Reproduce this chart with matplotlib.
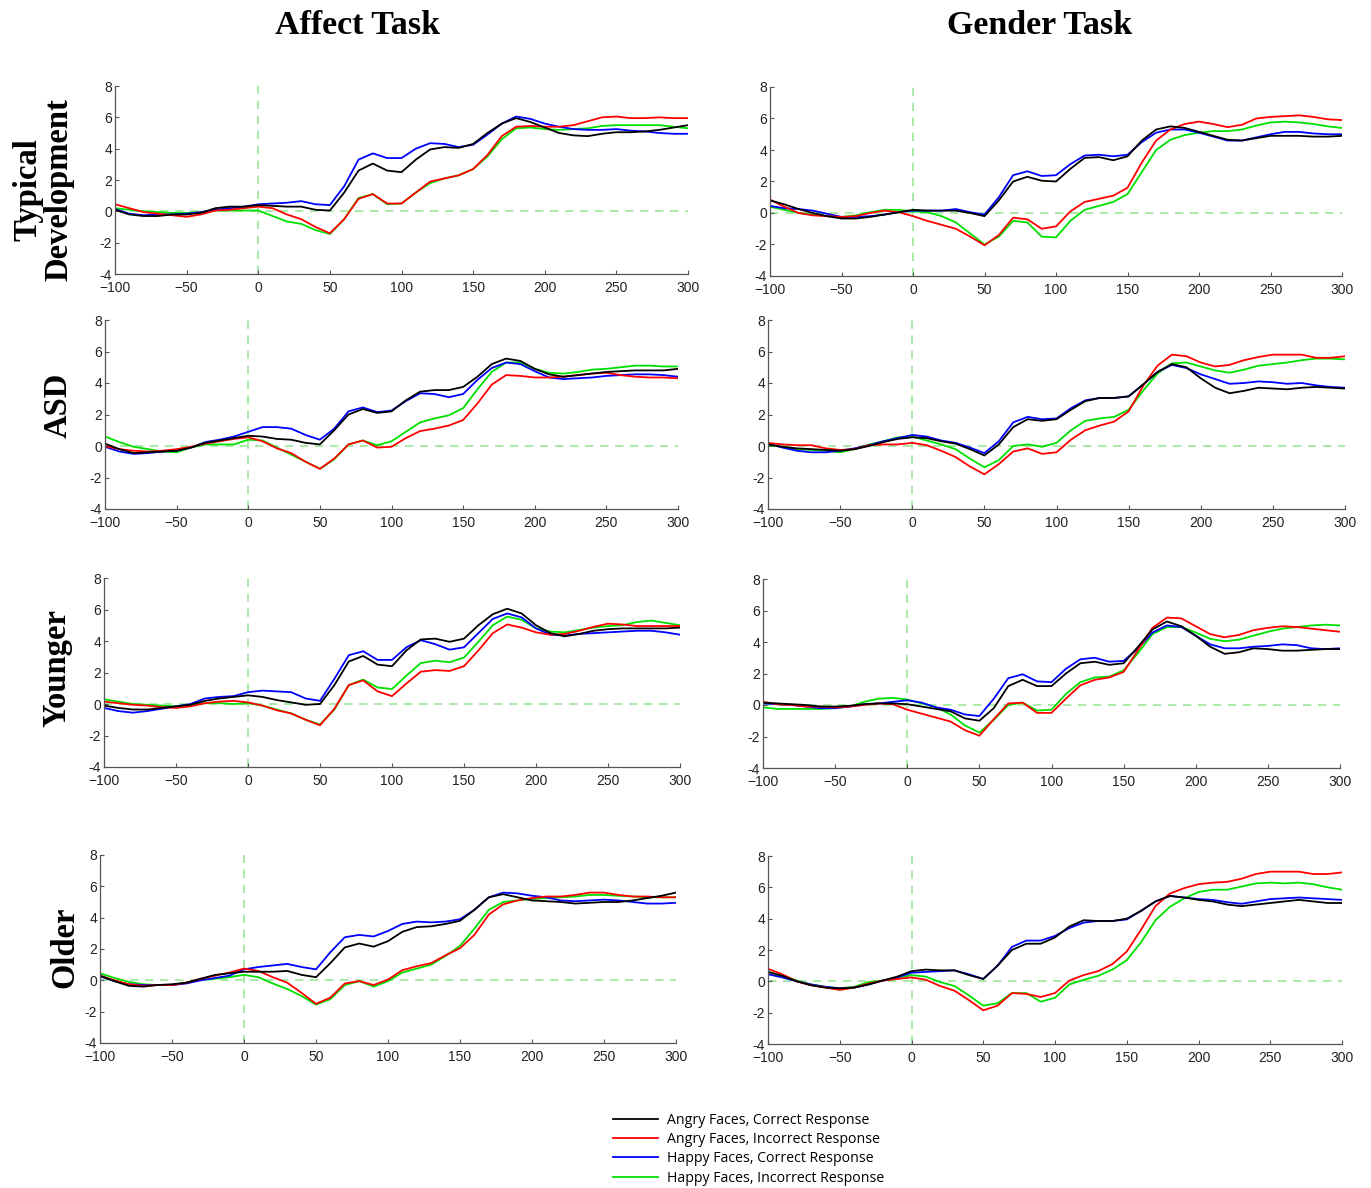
import numpy as np
import matplotlib
matplotlib.use("Agg")
import matplotlib.pyplot as plt

time_ms = list(range(-100, 301, 10))

tasks = ["Affect Task", "Gender Task"]
groups = ["Typical\nDevelopment", "ASD", "Younger", "Older"]
series_labels = ["Angry Faces, Correct Response", "Angry Faces, Incorrect Response",
                 "Happy Faces, Correct Response", "Happy Faces, Incorrect Response"]
y_ticks = [-4, -2, 0, 2, 4, 6, 8]
x_ticks = [-100, -50, 0, 50, 100, 150, 200, 250, 300]

# ---- Typical Development, Affect ----
td_aff_angry_cor = [0.1, -0.2, -0.3, -0.3, -0.2, -0.2, -0.1, 0.2, 0.3, 0.3, 0.4, 0.35, 0.3, 0.3, 0.1, 0.05, 1.2, 2.6, 3.05, 2.6, 2.5,
                    3.3, 3.95, 4.1, 4.05, 4.3, 5.0, 5.6, 5.95, 5.7, 5.35, 5.0, 4.85, 4.8, 4.95, 5.05, 5.05, 5.1, 5.2, 5.35, 5.5]
td_aff_angry_inc = [0.45, 0.2, -0.05, -0.15, -0.25, -0.35, -0.2, 0.05, 0.1, 0.2, 0.3, 0.2, -0.2, -0.5, -1.0, -1.4, -0.5, 0.8, 1.1, 0.5, 0.5,
                    1.2, 1.9, 2.1, 2.3, 2.7, 3.6, 4.8, 5.4, 5.45, 5.4, 5.4, 5.5, 5.75, 6.0, 6.05, 5.95, 5.95, 6.0, 5.95, 5.95]
td_aff_happy_cor = [0.15, -0.15, -0.25, -0.2, -0.2, -0.15, -0.05, 0.1, 0.2, 0.3, 0.45, 0.5, 0.55, 0.65, 0.45, 0.4, 1.6, 3.3, 3.7, 3.4, 3.4,
                    4.0, 4.35, 4.3, 4.1, 4.25, 4.9, 5.6, 6.05, 5.9, 5.6, 5.4, 5.25, 5.2, 5.2, 5.25, 5.15, 5.1, 5.0, 4.95, 4.95]
td_aff_happy_inc = [0.2, 0.1, 0.0, -0.05, -0.1, -0.1, -0.05, 0.05, 0.05, 0.05, 0.05, -0.3, -0.65, -0.8, -1.2, -1.45, -0.5, 0.85, 1.1, 0.45, 0.5,
                    1.2, 1.8, 2.1, 2.3, 2.7, 3.5, 4.6, 5.3, 5.35, 5.25, 5.2, 5.25, 5.3, 5.45, 5.5, 5.5, 5.5, 5.5, 5.4, 5.3]

# ---- Typical Development, Gender ----
td_gen_angry_cor = [0.8, 0.55, 0.25, 0.0, -0.2, -0.35, -0.35, -0.25, -0.1, 0.05, 0.2, 0.15, 0.15, 0.15, 0.0, -0.2, 0.8, 2.0, 2.3, 2.05, 2.0,
                    2.8, 3.5, 3.55, 3.35, 3.6, 4.6, 5.3, 5.5, 5.4, 5.15, 4.9, 4.65, 4.6, 4.75, 4.9, 4.9, 4.9, 4.85, 4.85, 4.9]
td_gen_angry_inc = [0.85, 0.4, 0.0, -0.15, -0.2, -0.25, -0.2, 0.0, 0.15, 0.05, -0.2, -0.5, -0.75, -1.0, -1.5, -2.05, -1.4, -0.3, -0.4, -1.0, -0.85,
                    0.1, 0.7, 0.9, 1.1, 1.6, 3.2, 4.6, 5.3, 5.65, 5.8, 5.65, 5.45, 5.6, 6.0, 6.1, 6.15, 6.2, 6.1, 5.95, 5.9]
td_gen_happy_cor = [0.45, 0.3, 0.25, 0.15, -0.05, -0.25, -0.25, -0.2, -0.1, 0.05, 0.15, 0.15, 0.15, 0.25, 0.05, -0.1, 1.0, 2.4, 2.65, 2.35, 2.4,
                    3.1, 3.65, 3.7, 3.6, 3.7, 4.5, 5.1, 5.3, 5.3, 5.1, 4.85, 4.6, 4.6, 4.8, 5.0, 5.15, 5.15, 5.05, 5.0, 5.0]
td_gen_happy_inc = [0.4, 0.2, 0.0, -0.1, -0.2, -0.25, -0.15, 0.05, 0.2, 0.2, 0.1, 0.05, -0.2, -0.6, -1.3, -2.0, -1.5, -0.5, -0.6, -1.5, -1.55,
                    -0.5, 0.2, 0.45, 0.7, 1.2, 2.6, 4.0, 4.65, 4.95, 5.1, 5.2, 5.2, 5.3, 5.55, 5.75, 5.8, 5.75, 5.65, 5.5, 5.4]

# ---- ASD, Affect ----
asd_aff_angry_cor = [0.15, -0.2, -0.45, -0.4, -0.35, -0.3, -0.1, 0.2, 0.35, 0.5, 0.65, 0.6, 0.45, 0.4, 0.2, 0.1, 1.0, 2.0, 2.35, 2.1, 2.2,
                     2.9, 3.45, 3.55, 3.55, 3.75, 4.4, 5.2, 5.55, 5.4, 4.9, 4.55, 4.4, 4.5, 4.6, 4.7, 4.75, 4.8, 4.8, 4.8, 4.9]
asd_aff_angry_inc = [0.0, -0.2, -0.3, -0.35, -0.3, -0.2, -0.05, 0.15, 0.3, 0.45, 0.55, 0.3, -0.15, -0.45, -1.0, -1.45, -0.8, 0.1, 0.35, -0.1, -0.05,
                     0.5, 0.95, 1.1, 1.3, 1.65, 2.7, 3.9, 4.5, 4.45, 4.35, 4.35, 4.4, 4.5, 4.6, 4.65, 4.5, 4.4, 4.35, 4.35, 4.3]
asd_aff_happy_cor = [-0.05, -0.35, -0.5, -0.45, -0.35, -0.3, -0.1, 0.25, 0.4, 0.6, 0.9, 1.2, 1.2, 1.1, 0.7, 0.4, 1.1, 2.2, 2.45, 2.15, 2.25,
                     2.85, 3.35, 3.3, 3.1, 3.3, 4.2, 4.95, 5.3, 5.2, 4.75, 4.35, 4.25, 4.3, 4.35, 4.45, 4.5, 4.55, 4.55, 4.5, 4.4]
asd_aff_happy_inc = [0.6, 0.25, -0.05, -0.2, -0.35, -0.4, -0.1, 0.1, 0.1, 0.1, 0.4, 0.35, -0.1, -0.55, -1.0, -1.45, -0.85, 0.1, 0.35, 0.05, 0.3,
                     0.9, 1.5, 1.75, 1.95, 2.4, 3.6, 4.7, 5.3, 5.3, 4.9, 4.65, 4.6, 4.7, 4.85, 4.9, 5.0, 5.1, 5.1, 5.05, 5.05]

# ---- ASD, Gender ----
asd_gen_angry_cor = [0.1, -0.05, -0.15, -0.2, -0.25, -0.3, -0.2, 0.0, 0.25, 0.45, 0.55, 0.5, 0.3, 0.15, -0.2, -0.6, 0.1, 1.2, 1.7, 1.6, 1.7,
                     2.3, 2.85, 3.05, 3.05, 3.15, 3.9, 4.7, 5.2, 5.0, 4.3, 3.7, 3.35, 3.5, 3.7, 3.65, 3.6, 3.7, 3.75, 3.7, 3.65]
asd_gen_angry_inc = [0.2, 0.1, 0.05, 0.05, -0.15, -0.25, -0.2, 0.05, 0.1, 0.1, 0.2, 0.05, -0.3, -0.7, -1.3, -1.8, -1.15, -0.35, -0.15, -0.5, -0.4,
                     0.4, 1.0, 1.3, 1.55, 2.2, 3.8, 5.1, 5.8, 5.7, 5.3, 5.05, 5.15, 5.45, 5.65, 5.8, 5.8, 5.8, 5.6, 5.6, 5.7]
asd_gen_happy_cor = [0.15, -0.1, -0.3, -0.4, -0.4, -0.3, -0.15, 0.05, 0.3, 0.5, 0.7, 0.6, 0.35, 0.2, -0.1, -0.45, 0.3, 1.5, 1.85, 1.7, 1.75,
                     2.4, 2.9, 3.05, 3.05, 3.15, 3.9, 4.7, 5.15, 4.95, 4.55, 4.25, 3.95, 4.0, 4.1, 4.05, 3.95, 4.0, 3.85, 3.75, 3.7]
asd_gen_happy_inc = [0.05, -0.05, -0.2, -0.25, -0.3, -0.4, -0.2, 0.1, 0.3, 0.55, 0.6, 0.35, 0.1, -0.2, -0.8, -1.35, -0.9, 0.0, 0.1, -0.05, 0.2,
                     1.0, 1.6, 1.75, 1.85, 2.3, 3.5, 4.6, 5.25, 5.3, 5.05, 4.8, 4.65, 4.85, 5.1, 5.2, 5.3, 5.45, 5.55, 5.55, 5.5]

# ---- Younger, Affect ----
yng_aff_angry_cor = [-0.1, -0.25, -0.35, -0.35, -0.25, -0.15, -0.05, 0.2, 0.35, 0.45, 0.55, 0.45, 0.25, 0.1, -0.05, 0.0, 1.2, 2.7, 3.05, 2.5, 2.4,
                     3.4, 4.1, 4.15, 3.95, 4.15, 5.0, 5.7, 6.05, 5.75, 5.0, 4.5, 4.3, 4.45, 4.65, 4.75, 4.8, 4.8, 4.8, 4.8, 4.85]
yng_aff_angry_inc = [0.15, 0.05, -0.05, -0.1, -0.2, -0.25, -0.15, 0.05, 0.15, 0.2, 0.1, -0.1, -0.4, -0.6, -1.0, -1.35, -0.3, 1.2, 1.5, 0.8, 0.5,
                     1.3, 2.05, 2.15, 2.1, 2.4, 3.4, 4.5, 5.05, 4.85, 4.55, 4.4, 4.45, 4.65, 4.9, 5.1, 5.05, 4.95, 4.95, 4.95, 4.95]
yng_aff_happy_cor = [-0.25, -0.45, -0.55, -0.45, -0.3, -0.15, 0.0, 0.35, 0.45, 0.5, 0.75, 0.85, 0.8, 0.75, 0.35, 0.2, 1.6, 3.1, 3.35, 2.8, 2.8,
                     3.6, 4.05, 3.8, 3.45, 3.6, 4.5, 5.4, 5.75, 5.5, 4.8, 4.4, 4.35, 4.45, 4.5, 4.55, 4.6, 4.65, 4.65, 4.55, 4.4]
yng_aff_happy_inc = [0.3, 0.15, 0.0, -0.05, -0.1, -0.15, -0.05, 0.05, 0.05, 0.0, 0.05, -0.1, -0.35, -0.6, -1.0, -1.3, -0.35, 1.2, 1.55, 1.05, 0.95,
                     1.8, 2.6, 2.75, 2.65, 2.95, 3.95, 5.0, 5.55, 5.35, 4.8, 4.6, 4.55, 4.7, 4.85, 4.95, 5.0, 5.2, 5.3, 5.15, 5.0]

# ---- Younger, Gender ----
yng_gen_angry_cor = [0.15, 0.1, 0.05, 0.0, -0.1, -0.1, -0.05, 0.05, 0.1, 0.1, 0.05, -0.1, -0.25, -0.4, -0.85, -1.0, -0.2, 1.2, 1.6, 1.2, 1.2,
                     2.0, 2.65, 2.75, 2.55, 2.65, 3.7, 4.8, 5.3, 5.0, 4.4, 3.7, 3.25, 3.35, 3.6, 3.55, 3.45, 3.45, 3.5, 3.55, 3.55]
yng_gen_angry_inc = [0.2, 0.05, 0.0, -0.1, -0.1, -0.15, -0.1, 0.0, 0.1, 0.05, -0.3, -0.55, -0.8, -1.05, -1.6, -1.95, -0.9, 0.1, 0.15, -0.5, -0.5,
                     0.4, 1.25, 1.6, 1.75, 2.1, 3.5, 4.9, 5.55, 5.5, 5.0, 4.5, 4.3, 4.45, 4.75, 4.9, 5.0, 4.95, 4.85, 4.75, 4.65]
yng_gen_happy_cor = [0.1, 0.05, 0.0, -0.1, -0.2, -0.2, -0.1, 0.05, 0.1, 0.2, 0.3, 0.15, -0.15, -0.3, -0.6, -0.7, 0.4, 1.7, 1.95, 1.5, 1.45,
                     2.3, 2.9, 3.0, 2.75, 2.8, 3.6, 4.6, 5.05, 4.95, 4.4, 3.85, 3.6, 3.6, 3.7, 3.75, 3.85, 3.8, 3.6, 3.55, 3.6]
yng_gen_happy_inc = [-0.15, -0.25, -0.25, -0.25, -0.25, -0.2, -0.1, 0.2, 0.4, 0.45, 0.35, 0.1, -0.15, -0.6, -1.3, -1.75, -0.95, 0.0, 0.15, -0.35, -0.3,
                     0.7, 1.45, 1.75, 1.8, 2.2, 3.3, 4.5, 4.95, 4.95, 4.6, 4.2, 4.05, 4.15, 4.4, 4.65, 4.85, 4.95, 5.05, 5.1, 5.05]

# ---- Older, Affect ----
old_aff_angry_cor = [0.3, -0.05, -0.35, -0.4, -0.3, -0.25, -0.15, 0.1, 0.35, 0.45, 0.55, 0.55, 0.55, 0.6, 0.35, 0.2, 1.1, 2.1, 2.35, 2.15, 2.5,
                     3.1, 3.4, 3.45, 3.6, 3.8, 4.5, 5.3, 5.5, 5.3, 5.1, 5.05, 5.0, 4.9, 4.95, 5.0, 5.0, 5.1, 5.25, 5.4, 5.6]
old_aff_angry_inc = [0.3, 0.0, -0.25, -0.35, -0.3, -0.3, -0.15, 0.1, 0.3, 0.5, 0.75, 0.6, 0.2, -0.15, -0.8, -1.5, -1.1, -0.2, -0.05, -0.3, 0.05,
                     0.65, 0.9, 1.1, 1.6, 2.05, 2.9, 4.2, 4.85, 5.1, 5.25, 5.35, 5.35, 5.45, 5.6, 5.6, 5.45, 5.35, 5.35, 5.3, 5.3]
old_aff_happy_cor = [0.25, -0.05, -0.25, -0.3, -0.3, -0.3, -0.2, 0.0, 0.15, 0.3, 0.7, 0.85, 0.95, 1.05, 0.85, 0.7, 1.8, 2.75, 2.9, 2.8, 3.15,
                     3.6, 3.75, 3.7, 3.75, 3.9, 4.5, 5.3, 5.6, 5.55, 5.4, 5.3, 5.1, 5.05, 5.1, 5.15, 5.1, 5.0, 4.9, 4.9, 4.95]
old_aff_happy_inc = [0.45, 0.15, -0.1, -0.25, -0.3, -0.3, -0.15, 0.05, 0.1, 0.2, 0.35, 0.2, -0.2, -0.55, -1.0, -1.55, -1.2, -0.3, -0.05, -0.4, -0.05,
                     0.5, 0.75, 1.0, 1.55, 2.2, 3.3, 4.5, 5.0, 5.1, 5.2, 5.25, 5.3, 5.35, 5.45, 5.45, 5.4, 5.35, 5.3, 5.3, 5.3]

# ---- Older, Gender ----
old_gen_angry_cor = [0.6, 0.35, 0.0, -0.25, -0.4, -0.45, -0.4, -0.2, 0.05, 0.3, 0.65, 0.75, 0.7, 0.7, 0.4, 0.15, 1.0, 2.0, 2.4, 2.4, 2.8,
                     3.5, 3.9, 3.85, 3.85, 4.0, 4.5, 5.1, 5.45, 5.35, 5.2, 5.1, 4.9, 4.8, 4.9, 5.0, 5.1, 5.2, 5.1, 5.0, 5.0]
old_gen_angry_inc = [0.8, 0.45, 0.0, -0.25, -0.4, -0.55, -0.4, -0.15, 0.05, 0.15, 0.25, 0.1, -0.3, -0.6, -1.2, -1.85, -1.55, -0.75, -0.8, -1.0, -0.75,
                     0.05, 0.4, 0.65, 1.1, 1.9, 3.3, 4.8, 5.6, 5.95, 6.2, 6.3, 6.35, 6.55, 6.85, 7.0, 7.0, 7.0, 6.85, 6.85, 6.95]
old_gen_happy_cor = [0.45, 0.25, 0.0, -0.2, -0.35, -0.45, -0.4, -0.2, 0.05, 0.25, 0.55, 0.6, 0.65, 0.7, 0.45, 0.15, 1.0, 2.2, 2.6, 2.6, 2.9,
                     3.4, 3.75, 3.85, 3.85, 3.95, 4.5, 5.1, 5.45, 5.35, 5.25, 5.2, 5.05, 4.95, 5.1, 5.25, 5.3, 5.35, 5.3, 5.25, 5.2]
old_gen_happy_inc = [0.6, 0.35, 0.05, -0.2, -0.35, -0.45, -0.35, -0.05, 0.05, 0.2, 0.4, 0.3, -0.05, -0.3, -0.9, -1.55, -1.4, -0.75, -0.75, -1.3, -1.05,
                     -0.2, 0.1, 0.35, 0.75, 1.35, 2.5, 3.9, 4.75, 5.3, 5.7, 5.85, 5.85, 6.05, 6.25, 6.3, 6.25, 6.3, 6.2, 6.0, 5.85]

panel_data = [
    [[td_aff_angry_cor, td_aff_angry_inc, td_aff_happy_cor, td_aff_happy_inc],
     [td_gen_angry_cor, td_gen_angry_inc, td_gen_happy_cor, td_gen_happy_inc]],
    [[asd_aff_angry_cor, asd_aff_angry_inc, asd_aff_happy_cor, asd_aff_happy_inc],
     [asd_gen_angry_cor, asd_gen_angry_inc, asd_gen_happy_cor, asd_gen_happy_inc]],
    [[yng_aff_angry_cor, yng_aff_angry_inc, yng_aff_happy_cor, yng_aff_happy_inc],
     [yng_gen_angry_cor, yng_gen_angry_inc, yng_gen_happy_cor, yng_gen_happy_inc]],
    [[old_aff_angry_cor, old_aff_angry_inc, old_aff_happy_cor, old_aff_happy_inc],
     [old_gen_angry_cor, old_gen_angry_inc, old_gen_happy_cor, old_gen_happy_inc]],
]

colors = ["#000000", "#ff0000", "#0000ff", "#00e000"]
guide_color = "#9be69b"

W, H = 1371, 1188
fig = plt.figure(figsize=(W / 100, H / 100), dpi=100)

# axes boxes in pixel coords (left, right, top, bottom)
boxes = [
    [(115, 688, 86, 274), (770, 1342, 87, 276)],
    [(105, 678, 320, 509), (768, 1345, 320, 509)],
    [(104, 680, 578, 767), (763, 1340, 579, 768)],
    [(100, 676, 855, 1043), (768, 1342, 856, 1044)],
]

def px_axes(l, r, t, b):
    return fig.add_axes([l / W, 1 - b / H, (r - l) / W, (b - t) / H])

tick_font = {"family": "Liberation Sans", "size": 10}
handles = None
for i in range(4):
    for j in range(2):
        ax = px_axes(*boxes[i][j])
        ax.axhline(0, color=guide_color, lw=1.2, ls=(0, (5, 4)), zorder=1)
        ax.axvline(0, color=guide_color, lw=1.2, ls=(0, (5, 4)), zorder=1)
        hs = []
        for k in range(4):
            h, = ax.plot(time_ms, panel_data[i][j][k], color=colors[k], lw=1.3,
                         label=series_labels[k], zorder=2 + (3 - k) * 0.1,
                         solid_joinstyle="round")
            hs.append(h)
        handles = hs
        ax.set_xlim(-100, 300)
        ax.set_ylim(-4, 8)
        ax.set_xticks(x_ticks)
        ax.set_yticks(y_ticks)
        ax.set_xticklabels([str(v).replace("-", "\u2212") for v in x_ticks], fontdict=tick_font)
        ax.set_yticklabels([str(v) for v in y_ticks], fontdict=tick_font)
        for s in ["top", "right"]:
            ax.spines[s].set_visible(False)
        for s in ["left", "bottom"]:
            ax.spines[s].set_color("#555555")
            ax.spines[s].set_linewidth(0.9)
        ax.tick_params(direction="in", length=3, width=0.8, color="#555555",
                       labelcolor="#222222")
        ax.tick_params(axis="x", pad=5)
        ax.tick_params(axis="y", pad=2)
        ax.patch.set_alpha(0)

title_font = dict(family="Liberation Serif", weight="bold", size=24.5)
fig.text(358 / W, 1 - 26 / H, tasks[0], ha="center", va="center", **title_font)
fig.text(1040 / W, 1 - 26 / H, tasks[1], ha="center", va="center", **title_font)

row_font = dict(family="Liberation Serif", weight="bold", size=23.5)
row_label_pos = [(43, 190), (58, 405), (57, 668), (65, 947)]
for (x, y), g in zip(row_label_pos, groups):
    fig.text(x / W, 1 - y / H, g, ha="center", va="center", rotation=90,
             linespacing=1.0, **row_font)

fig.legend(handles=handles, labels=series_labels, loc="upper left",
           bbox_to_anchor=(603 / W, 1 - 1103 / H), frameon=False,
           prop={"family": "Open Sans", "size": 10.2}, handlelength=3.2,
           handletextpad=0.6, labelspacing=0.3, borderpad=0.2)

fig.savefig("out.png", dpi=100)
